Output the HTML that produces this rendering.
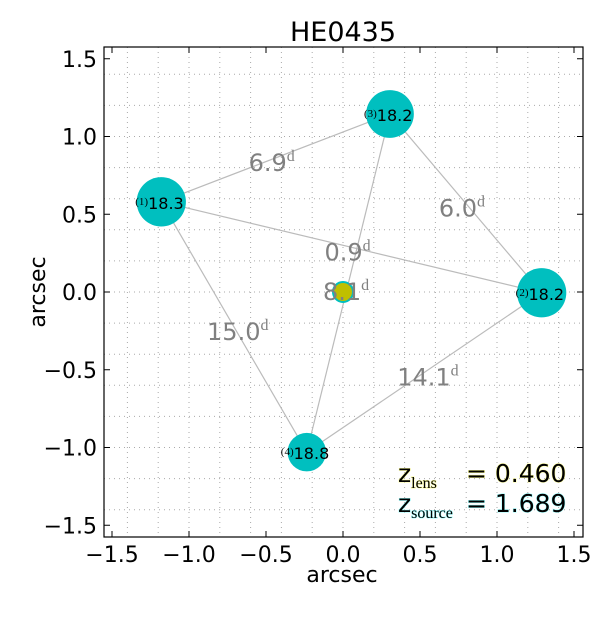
<!DOCTYPE html>
<html><head><meta charset="utf-8"><style>
body{margin:0;background:#fff}
svg text{font-family:"DejaVu Sans","Liberation Sans",sans-serif}
</style></head><body>
<svg id="c" width="612" height="612" xmlns="http://www.w3.org/2000/svg">
<rect width="612" height="612" fill="#fff"/>
<text x="343" y="41" font-size="27" text-anchor="middle">HE0435</text>
<g id="grid"></g><g id="lines"></g><g id="marks"></g><g id="axes"></g>
<text x="342" y="582" font-size="22" text-anchor="middle">arcsec</text>
<text transform="translate(45,292) rotate(-90)" font-size="22" text-anchor="middle">arcsec</text>
<g font-size="25">
<text x="398" y="482" stroke="#ffff99" stroke-width="1" paint-order="stroke">z<tspan font-family="Liberation Serif,serif" font-size="16" dy="6">lens</tspan><tspan dy="-6" x="466">= 0.460</tspan></text>
<text x="398" y="512" stroke="#99ffff" stroke-width="1" paint-order="stroke">z<tspan font-family="Liberation Serif,serif" font-size="16" dy="6">source</tspan><tspan dy="-6" x="466">= 1.689</tspan></text>
</g>
</svg>
<script>
const imgLabels=["(1)","(2)","(3)","(4)"];
const imgX=[-1.18,1.29,0.305,-0.235];
const imgY=[0.58,-0.005,1.145,-1.03];
const imgMag=["18.3","18.2","18.2","18.8"];
const imgR=[0.16,0.16,0.155,0.125];
const lensX=[0.0],lensY=[0.0];
const pairs=[[0,2],[2,1],[0,1],[0,3],[3,1],[2,3]];
const delays=["6.9","6.0","0.9","15.0","14.1","8.1"];
const xTicks=[-1.5,-1.0,-0.5,0.0,0.5,1.0,1.5];
const yTicks=[-1.5,-1.0,-0.5,0.0,0.5,1.0,1.5];
const X0=104,X1=583,Y0=47,Y1=537;
const sx=v=>343+v*154, sy=v=>292-v*155.5;
const NS="http://www.w3.org/2000/svg";
function mk(t,a,p){const e=document.createElementNS(NS,t);for(const k in a)e.setAttribute(k,a[k]);p.appendChild(e);return e;}
const g=document.getElementById('grid');
for(let i=-7;i<=7;i++){const v=i*0.2;
 let l=mk('line',{x1:sx(v),x2:sx(v),y1:Y0,y2:Y1,stroke:'#aaa','stroke-dasharray':'1,4'},g);
 
 
 let m=mk('line',{y1:sy(v),y2:sy(v),x1:X0,x2:X1,stroke:'#aaa','stroke-dasharray':'1,4'},g);
 
 }
const L=document.getElementById('lines');
pairs.forEach((p,i)=>{const a=p[0],b=p[1];
 const ln=mk('line',{x1:sx(imgX[a]),y1:sy(imgY[a]),x2:sx(imgX[b]),y2:sy(imgY[b]),stroke:'#bbb','stroke-width':1.2},L);
 
 });
const M=document.getElementById('marks');
imgX.forEach((x,i)=>{
 const c=mk('circle',{cx:sx(x),cy:sy(imgY[i]),r:imgR[i]*154,fill:'#00bfbf'},M);
 
 });
const lc=mk('circle',{cx:sx(lensX[0]),cy:sy(lensY[0]),r:10,fill:'#bfbf00',stroke:'#00bfbf','stroke-width':2},M);


pairs.forEach((p,i)=>{
 let mx=(imgX[p[0]]+imgX[p[1]])/2,my=(imgY[p[0]]+imgY[p[1]])/2;
 let dx=-27,dy=13;
 if(i==5){mx=0.0;my=0.0;dx=-20;dy=8;}
 const t=mk('text',{x:sx(mx)+dx,y:sy(my)+dy,'font-size':24,fill:'#808080'},M);
 t.textContent=delays[i];
 const s=mk('tspan',{dy:-10,'font-size':16,'font-family':'Liberation Serif,serif'},t);s.textContent='d';
 
 });
imgX.forEach((x,i)=>{
 const t=mk('text',{x:sx(x)-26,y:sy(imgY[i])+7,'font-size':16},M);
 const s=mk('tspan',{'font-size':11,'font-family':'Liberation Serif,serif',dy:-4},t);s.textContent=imgLabels[i];
 const s2=mk('tspan',{dy:4},t);s2.textContent=imgMag[i];
 
 });
const A=document.getElementById('axes');
mk('rect',{x:X0,y:Y0,width:X1-X0,height:Y1-Y0,fill:'none',stroke:'#000','stroke-width':1.2},A);
xTicks.forEach(v=>{
 mk('line',{x1:sx(v),x2:sx(v),y1:Y1,y2:Y1-6,stroke:'#000'},A);
 mk('line',{x1:sx(v),x2:sx(v),y1:Y0,y2:Y0+6,stroke:'#000'},A);
 const t=mk('text',{x:sx(v),y:Y1+25,'font-size':22,'text-anchor':'middle'},A);
 t.textContent=v.toFixed(1).replace('-','\u2212');
 
 });
yTicks.forEach(v=>{
 mk('line',{y1:sy(v),y2:sy(v),x1:X0,x2:X0+6,stroke:'#000'},A);
 mk('line',{y1:sy(v),y2:sy(v),x1:X1,x2:X1-6,stroke:'#000'},A);
 const t=mk('text',{x:X0-7,y:sy(v)+8,'font-size':22,'text-anchor':'end'},A);
 t.textContent=v.toFixed(1).replace('-','\u2212');
 
 });
</script>
</body></html>
